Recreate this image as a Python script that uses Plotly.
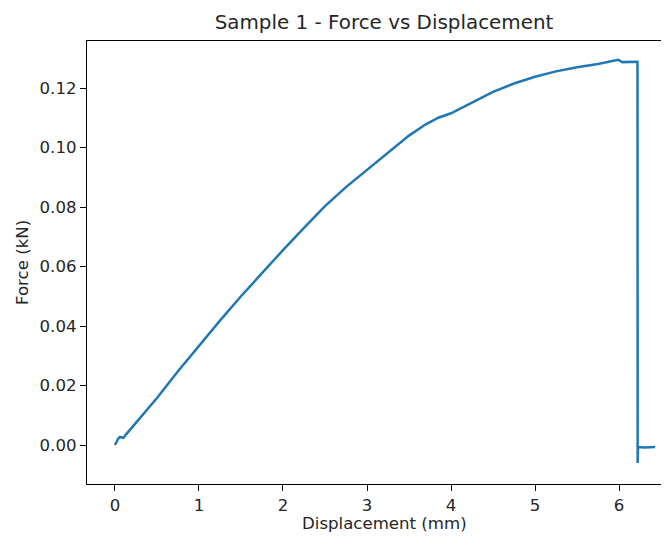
import plotly.graph_objects as go

displacement_mm = [0.0, 0.04, 0.06, 0.10, 0.13, 0.30, 0.50, 0.75, 1.00, 1.25, 1.50, 1.75,
                   2.00, 2.25, 2.50, 2.75, 3.00, 3.25, 3.50, 3.70, 3.85, 4.00, 4.25, 4.50,
                   4.75, 5.00, 5.25, 5.50, 5.75, 5.95, 5.99, 6.04, 6.21, 6.22, 6.222,
                   6.226, 6.30, 6.43]
force_kN = [0.0, 0.0022, 0.0027, 0.0024, 0.0035, 0.0092, 0.0158, 0.0248, 0.0335, 0.0418,
            0.0500, 0.0578, 0.0655, 0.0730, 0.0803, 0.0867, 0.0925, 0.0985, 0.1040, 0.1078,
            0.1100, 0.1115, 0.1150, 0.1187, 0.1215, 0.1238, 0.1256, 0.1270, 0.1281, 0.1291,
            0.1295, 0.1287, 0.1288, 0.1288, -0.0060, -0.0007, -0.0008, -0.0007]

x_ticks = [0, 1, 2, 3, 4, 5, 6]
y_ticks = [0.00, 0.02, 0.04, 0.06, 0.08, 0.10, 0.12]

font_family = "DejaVu Sans"
txt_color = "#262626"

fig = go.Figure()
fig.add_trace(go.Scatter(
    x=displacement_mm, y=force_kN, mode="lines",
    line=dict(color="#1f77b4", width=2.5),
    showlegend=False,
))

# page has an 8px body margin; figure is sized/offset to compensate
OFF = 8
W, H = 669 - OFF, 537 - OFF
L, R, T, B = 87 - OFF, 0, 41 - OFF, 537 - 484
pw, ph = W - L - R, H - T - B

def px(xp):
    return (xp - OFF - L) / pw

def py(yp):
    return ((H - B) - (yp - OFF)) / ph

fig.update_layout(
    width=W, height=H,
    margin=dict(l=L, r=R, t=T, b=B, autoexpand=False),
    paper_bgcolor="white", plot_bgcolor="white",
    font=dict(family=font_family, size=16.6, color=txt_color),
    title=dict(text="Sample 1 - Force vs Displacement", x=px(384), xref="paper",
               xanchor="center", y=1 - (22 - OFF) / H, yanchor="middle",
               font=dict(family=font_family, size=19.9, color=txt_color)),
    xaxis=dict(
        range=[-0.333, 6.595], tickvals=x_ticks, ticktext=[str(v) for v in x_ticks],
        showgrid=False, zeroline=False, showline=True, linecolor="black", linewidth=1.3,
        mirror=True, ticks="outside", ticklen=6, tickwidth=1.3, tickcolor="black",
        automargin=False, tickfont=dict(size=16.6, color=txt_color),
    ),
    yaxis=dict(
        range=[-0.0131, 0.1358], tickvals=y_ticks, ticktext=[f"{v:.2f}" for v in y_ticks],
        showgrid=False, zeroline=False, showline=True, linecolor="black", linewidth=1.3,
        mirror=False, ticks="outside", ticklen=6, tickwidth=1.3, tickcolor="black",
        automargin=False, tickfont=dict(size=16.6, color=txt_color),
    ),
    annotations=[
        dict(text="Displacement (mm)", xref="paper", yref="paper",
             x=px(384), y=py(523), xanchor="center", yanchor="middle",
             showarrow=False, font=dict(size=16.6, color=txt_color)),
        dict(text="Force (kN)", xref="paper", yref="paper", textangle=-90,
             x=px(22), y=py(263), xanchor="center", yanchor="middle",
             showarrow=False, font=dict(size=16.6, color=txt_color)),
    ],
)

fig.write_html("out.html")
